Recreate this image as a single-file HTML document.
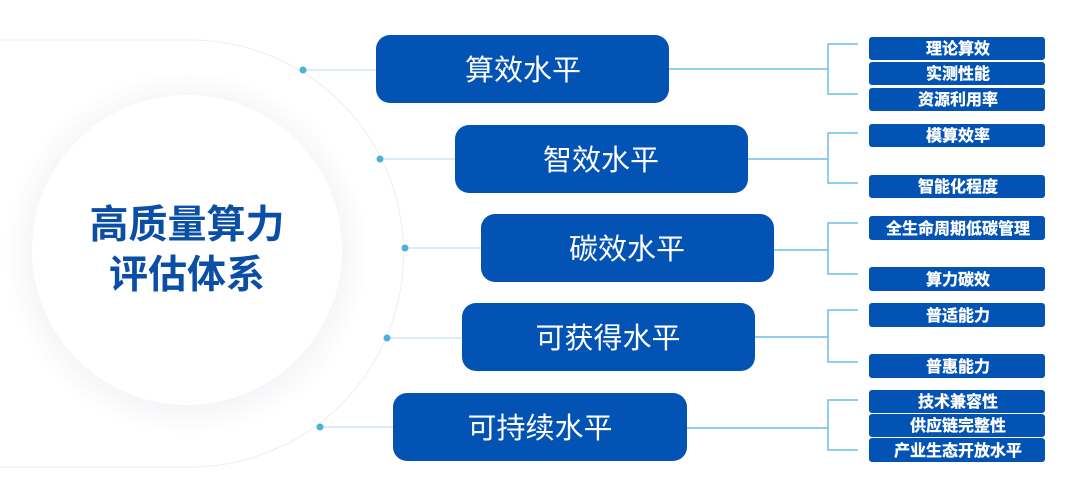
<!DOCTYPE html>
<html><head><meta charset="utf-8"><style>
html,body{margin:0;padding:0;background:#fff;width:1080px;height:494px;overflow:hidden}
svg{display:block}
text{font-family:"Liberation Sans","Noto Sans CJK SC",sans-serif}
</style></head><body>
<svg width="1080" height="494" viewBox="0 0 1080 494" xmlns="http://www.w3.org/2000/svg">
<defs>
<radialGradient id="sh" cx="0.5" cy="0.5" r="0.5">
<stop offset="0.82" stop-color="#f4f5f7"/>
<stop offset="1" stop-color="#ffffff"/>
</radialGradient>
</defs>
<path d="M0,40 L190,40 A213,213 0 0 1 190,467 L0,467" fill="#fff" stroke="#eceef1" stroke-width="1"/>
<circle cx="187" cy="253" r="182" fill="url(#sh)"/>
<circle cx="187" cy="250" r="155" fill="#fff"/>
<text x="187" y="238" font-size="39" font-weight="bold" fill="#0b4ea6" text-anchor="middle">高质量算力</text>
<text x="187" y="288" font-size="39" font-weight="bold" fill="#0b4ea6" text-anchor="middle">评估体系</text>

<g stroke="#cde6f3" stroke-width="1.5">
<line x1="303" y1="70" x2="376" y2="70"/>
<line x1="380" y1="159" x2="455" y2="159"/>
<line x1="405" y1="248" x2="481" y2="248"/>
<line x1="387" y1="338" x2="462" y2="338"/>
<line x1="320" y1="427" x2="393" y2="427"/>
</g>
<g fill="#4fb0dc">
<circle cx="303" cy="70" r="3.5"/><circle cx="380" cy="159" r="3.5"/><circle cx="405" cy="248" r="3.5"/><circle cx="387" cy="338" r="3.5"/><circle cx="320" cy="427" r="3.5"/>
</g>

<g fill="#0353b4">
<rect x="376" y="35" width="293" height="68" rx="14"/>
<rect x="455" y="125" width="293" height="68" rx="14"/>
<rect x="481" y="214" width="293" height="68" rx="14"/>
<rect x="462" y="303" width="293" height="68" rx="14"/>
<rect x="393" y="393" width="294" height="68" rx="14"/>
</g>
<g fill="#fff" font-size="29" text-anchor="middle">
<text x="523" y="80">算效水平</text>
<text x="601" y="170">智效水平</text>
<text x="627" y="259">碳效水平</text>
<text x="608" y="348">可获得水平</text>
<text x="540" y="438">可持续水平</text>
</g>

<g stroke="#6cc0e6" stroke-width="1.5" fill="none">
<line x1="669" y1="69" x2="828" y2="69"/><path d="M858,44 H828 V94 H858"/>
<line x1="748" y1="159" x2="828" y2="159"/><path d="M858,133 H828 V183 H858"/>
<line x1="774" y1="250" x2="828" y2="250"/><path d="M858,223 H828 V274 H858"/>
<line x1="755" y1="337" x2="828" y2="337"/><path d="M858,310 H828 V362 H858"/>
<line x1="687" y1="428" x2="828" y2="428"/><path d="M858,400 H828 V450 H858"/>
</g>

<g fill="#0353b4">
<rect x="869" y="37" width="176" height="23" rx="3"/>
<rect x="869" y="62" width="176" height="23" rx="3"/>
<rect x="869" y="88" width="176" height="23" rx="3"/>
<rect x="869" y="124" width="176" height="23" rx="3"/>
<rect x="869" y="175" width="176" height="23" rx="3"/>
<rect x="869" y="216" width="176" height="24" rx="3"/>
<rect x="869" y="267" width="176" height="24" rx="3"/>
<rect x="869" y="303" width="176" height="24" rx="3"/>
<rect x="869" y="354" width="176" height="24" rx="3"/>
<rect x="869" y="390" width="176" height="23" rx="3"/>
<rect x="869" y="414" width="176" height="23" rx="3"/>
<rect x="869" y="438" width="176" height="24" rx="3"/>
</g>
<g fill="#fff" font-size="16" font-weight="bold" text-anchor="middle" stroke="#fff" stroke-width="0.3">
<text x="958" y="54">理论算效</text>
<text x="958" y="79">实测性能</text>
<text x="958" y="105">资源利用率</text>
<text x="958" y="141">模算效率</text>
<text x="958" y="192">智能化程度</text>
<text x="958" y="234">全生命周期低碳管理</text>
<text x="958" y="285">算力碳效</text>
<text x="958" y="321">普适能力</text>
<text x="958" y="372">普惠能力</text>
<text x="958" y="407">技术兼容性</text>
<text x="958" y="431">供应链完整性</text>
<text x="958" y="456">产业生态开放水平</text>
</g>
</svg>
</body></html>
